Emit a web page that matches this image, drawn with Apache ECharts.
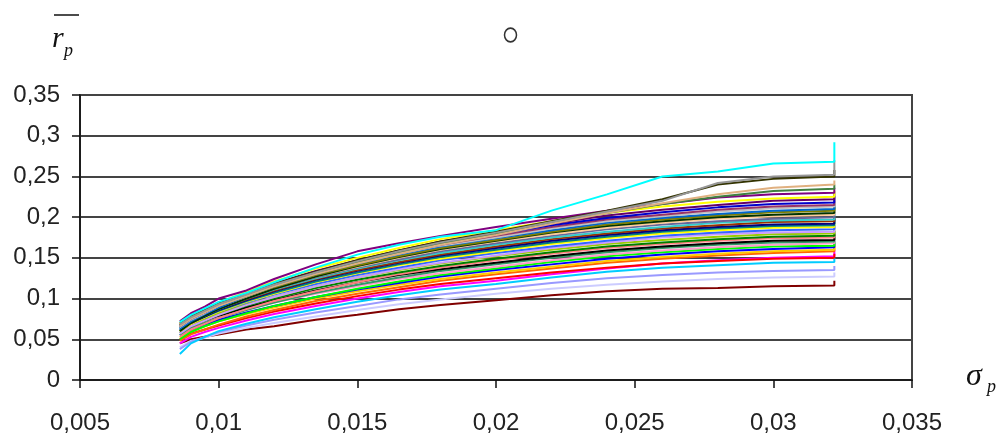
<!DOCTYPE html>
<html>
<head>
<meta charset="utf-8">
<script src="https://cdn.jsdelivr.net/npm/echarts@6/dist/echarts.min.js"></script>
<style>
html,body{margin:0;padding:0;background:#fff;}
#chart{width:1005px;height:436px;}
</style>
</head>
<body>
<div id="chart"></div>
<script>
// sigma_p sample points (shared by all curves); last x repeated for the final vertical jump
const sigmaX = [0.0086,0.0090,0.0095,0.0100,0.0110,0.0120,0.0135,0.0150,0.0165,0.0180,0.0200,0.0220,0.0240,0.0260,0.0280,0.0300,0.0322,0.0322];

const r01 = [.045,.050,.053,.056,.062,.066,.074,.080,.087,.092,.098,.104,.109,.112,.113,.115,.116,.122];
const r02 = [.040,.048,.052,.057,.064,.070,.078,.086,.093,.099,.106,.112,.117,.121,.124,.126,.127,.132];
const r03 = [.038,.047,.053,.059,.067,.074,.083,.091,.099,.105,.112,.119,.125,.129,.132,.134,.135,.140];
const r04 = [.032,.045,.053,.060,.069,.077,.087,.096,.104,.111,.118,.126,.133,.138,.141,.144,.145,.150];
const r05 = [.045,.053,.059,.064,.073,.081,.091,.100,.108,.115,.122,.130,.137,.143,.147,.150,.152,.160];
const r06 = [.050,.057,.062,.067,.076,.084,.094,.103,.111,.118,.125,.132,.138,.143,.146,.149,.150,.155];
const r07 = [.048,.056,.062,.068,.078,.086,.097,.106,.114,.122,.130,.137,.144,.149,.153,.156,.158,.165];
const r08 = [.052,.060,.066,.072,.081,.089,.100,.109,.117,.124,.132,.139,.146,.151,.155,.158,.160,.168];
const r09 = [.055,.062,.068,.074,.083,.091,.102,.111,.119,.127,.135,.142,.149,.154,.158,.161,.163,.170];
const r10 = [.050,.059,.066,.072,.082,.091,.102,.112,.121,.129,.137,.145,.152,.157,.161,.164,.165,.170];
const r11 = [.058,.065,.071,.077,.087,.095,.106,.115,.124,.131,.139,.147,.154,.159,.163,.166,.168,.175];
const r12 = [.055,.064,.070,.076,.086,.095,.107,.117,.126,.134,.142,.150,.157,.162,.166,.169,.170,.178];
const r13 = [.060,.067,.073,.079,.089,.098,.110,.120,.129,.136,.144,.152,.159,.164,.168,.171,.172,.180];
const r14 = [.053,.062,.069,.076,.087,.097,.109,.120,.130,.138,.147,.155,.162,.167,.171,.174,.175,.180];
const r15 = [.058,.066,.073,.080,.091,.100,.113,.123,.132,.140,.149,.157,.164,.169,.173,.176,.177,.183];
const r16 = [.060,.068,.075,.082,.093,.102,.115,.126,.135,.143,.152,.160,.167,.172,.176,.179,.180,.190];
const r17 = [.057,.066,.073,.080,.092,.102,.115,.126,.136,.144,.153,.162,.169,.175,.179,.181,.182,.190];
const r18 = [.062,.070,.077,.084,.095,.105,.118,.129,.138,.147,.156,.164,.171,.177,.181,.184,.185,.190];
const r19 = [.060,.069,.077,.084,.096,.106,.120,.131,.141,.149,.158,.167,.174,.180,.184,.187,.188,.195];
const r20 = [.063,.071,.078,.085,.097,.107,.121,.132,.142,.151,.160,.169,.176,.182,.186,.189,.190,.198];
const r21 = [.061,.070,.078,.086,.098,.109,.123,.134,.144,.153,.162,.171,.178,.184,.188,.191,.192,.200];
const r22 = [.065,.073,.080,.087,.099,.110,.124,.135,.145,.154,.164,.173,.180,.186,.190,.194,.195,.200];
const r23 = [.062,.071,.079,.087,.100,.111,.125,.137,.147,.156,.166,.175,.182,.188,.193,.196,.197,.205];
const r24 = [.064,.073,.081,.088,.101,.112,.126,.138,.148,.158,.168,.177,.185,.191,.195,.198,.200,.207];
const r25 = [.066,.074,.081,.089,.102,.113,.127,.139,.150,.160,.170,.179,.187,.193,.198,.201,.203,.210];
const r26 = [.060,.070,.079,.087,.100,.112,.127,.140,.151,.161,.171,.181,.189,.195,.200,.203,.205,.212];
const r27 = [.067,.075,.082,.090,.103,.114,.129,.141,.152,.162,.172,.182,.191,.197,.202,.206,.208,.215];
const r28 = [.063,.072,.081,.089,.103,.115,.130,.143,.154,.164,.174,.184,.193,.199,.204,.208,.210,.218];
const r29 = [.065,.074,.082,.091,.104,.116,.131,.144,.155,.165,.175,.186,.195,.201,.207,.211,.213,.220];
const r30 = [.068,.076,.084,.092,.105,.117,.132,.145,.156,.166,.177,.188,.197,.203,.209,.213,.215,.222];
const r31 = [.066,.075,.083,.092,.106,.118,.133,.146,.157,.168,.179,.190,.199,.206,.212,.216,.218,.226];
const r32 = [.068,.077,.085,.093,.107,.119,.134,.147,.159,.170,.181,.192,.202,.209,.215,.220,.222,.230];
const r33 = [.069,.078,.087,.095,.108,.121,.137,.150,.162,.173,.184,.195,.205,.213,.219,.223,.225,.232];
const r34 = [.072,.082,.090,.100,.110,.124,.142,.158,.168,.177,.188,.198,.208,.216,.224,.228,.230,.236];
const r35 = [.067,.076,.084,.092,.104,.116,.131,.145,.157,.168,.180,.193,.205,.216,.225,.232,.235,.240];
const r36 = [.066,.075,.083,.091,.103,.115,.130,.143,.155,.166,.178,.192,.205,.217,.228,.236,.240,.245];
const r37 = [.070,.078,.086,.094,.106,.118,.133,.147,.159,.170,.182,.195,.208,.222,.240,.247,.250,.258];
const r38 = [.068,.077,.085,.093,.105,.117,.132,.146,.158,.169,.181,.194,.207,.220,.242,.250,.252,.270];
const r39 = [.071,.080,.088,.096,.107,.120,.138,.154,.166,.176,.184,.208,.228,.250,.256,.266,.268,.292];

const curves = [r01,r02,r03,r04,r05,r06,r07,r08,r09,r10,r11,r12,r13,r14,r15,r16,r17,r18,r19,r20,
                r21,r22,r23,r24,r25,r26,r27,r28,r29,r30,r31,r32,r33,r34,r35,r36,r37,r38,r39];

const curveColors = ['#800000','#CCCCFF','#9999FF','#00CCFF','#FF00FF','#FF0000','#FF6600','#FFCC00','#0000FF','#00FF00',
                     '#FF99CC','#339966','#000000','#FF8080','#008000','#99CC00','#CC99FF','#3366FF','#FFFF00','#008080',
                     '#000080','#993300','#33CCCC','#666699','#FFCC99','#003300','#808000','#0066CC','#C0C0C0','#993366',
                     '#0000CC','#660066','#FFFF00','#800080','#408040','#E0B080','#333300','#969696','#00FFFF'];

const xTickLabels = ['0,005','0,01','0,015','0,02','0,025','0,03','0,035'];
const yTickLabels = ['0','0,05','0,1','0,15','0,2','0,25','0,3','0,35'];

const chart = echarts.init(document.getElementById('chart'), null, {renderer:'canvas'});

const series = curves.map((vals, i) => ({
  type: 'line',
  symbol: 'none',
  silent: true,
  animation: false,
  lineStyle: { color: curveColors[i], width: 2 },
  data: vals.map((v, k) => [sigmaX[k], v])
}));

const labelFont = { fontFamily: 'Liberation Sans, Arial, sans-serif', fontSize: 24, color: '#222' };

chart.setOption({
  animation: false,
  backgroundColor: '#fff',
  grid: { left: 80, right: 93, top: 95, bottom: 56, show: true, borderColor: '#444', borderWidth: 2, backgroundColor: 'transparent' },
  xAxis: {
    type: 'value', min: 0.005, max: 0.035, interval: 0.005,
    axisLine: { show: true, lineStyle: { color: '#111', width: 1.5 } },
    axisTick: { show: true, inside: false, length: 8, lineStyle: { color: '#111', width: 1.5 } },
    splitLine: { show: false },
    axisLabel: Object.assign({ margin: 31, formatter: v => xTickLabels[Math.round((v - 0.005) / 0.005)] }, labelFont)
  },
  yAxis: {
    type: 'value', min: 0, max: 0.35, interval: 0.05,
    axisLine: { show: true, lineStyle: { color: '#111', width: 1.5 } },
    axisTick: { show: true, inside: false, length: 8, lineStyle: { color: '#111', width: 1.5 } },
    splitLine: { show: true, lineStyle: { color: '#444', width: 2 } },
    axisLabel: Object.assign({ margin: 20, formatter: v => yTickLabels[Math.round(v / 0.05)] }, labelFont)
  },
  series: series,
  graphic: [
    { type: 'line', shape: { x1: 54, y1: 15, x2: 79, y2: 15 }, style: { stroke: '#111', lineWidth: 1.5 }, silent: true },
    { type: 'text', left: 52, top: 24, style: { text: 'r', font: 'italic 30px "Liberation Serif", "Times New Roman", serif', fill: '#111' }, silent: true },
    { type: 'text', left: 64, top: 42, style: { text: 'p', font: 'italic 18px "Liberation Serif", "Times New Roman", serif', fill: '#111' }, silent: true },
    { type: 'circle', shape: { cx: 510.5, cy: 35, r: 6 }, scaleY: 1.15, originX: 510.5, originY: 35, style: { fill: 'none', stroke: '#333', lineWidth: 1.5 }, silent: true },
    { type: 'text', left: 966, top: 361, style: { text: 'σ', font: 'italic 32px "Liberation Serif", "Times New Roman", serif', fill: '#111' }, silent: true },
    { type: 'text', left: 987, top: 378, style: { text: 'p', font: 'italic 18px "Liberation Serif", "Times New Roman", serif', fill: '#111' }, silent: true }
  ]
});
</script>
</body>
</html>
